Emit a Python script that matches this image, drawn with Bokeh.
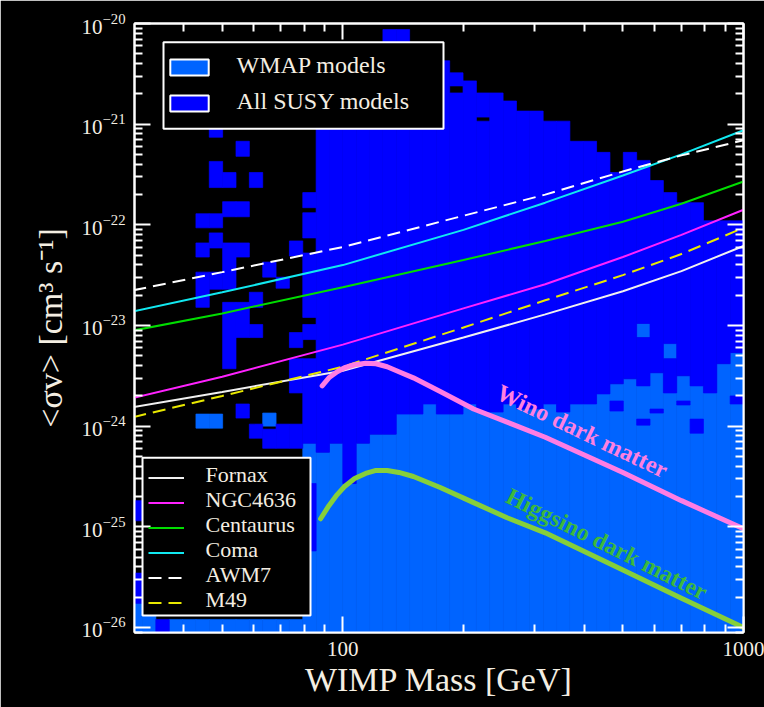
import numpy as np
from bokeh.plotting import figure
from bokeh.models import (FixedTicker, LogAxis, Legend, LegendItem, PrintfTickFormatter,
                          CustomJSTickFormatter, ColumnDataSource)
from bokeh.core.properties import value
from bokeh.embed import file_html
from bokeh.resources import INLINE

# ---------------- data ----------------
# heat-map cells: (column index k -> mass bin [10^(k/30), 10^((k+1)/30)] GeV,
#                  log10 <sigma v> lower edge, log10 upper edge)
wmap_cells = [
    (44, -26.10, -25.76), (45, -26.10, -25.76),
    (47, -26.10, -25.92), (48, -26.10, -25.92), (49, -26.10, -25.92), (50, -26.10, -25.92),
    (51, -26.10, -25.92), (52, -26.10, -25.92), (53, -26.10, -25.92), (54, -26.10, -25.92),
    (55, -26.10, -25.92), (56, -26.10, -25.92),
    (49, -24.02, -23.88), (50, -24.02, -23.88), (54, -24.00, -23.87),
    (57, -26.10, -24.17), (58, -26.10, -24.26), (59, -26.10, -24.17), (60, -26.10, -24.57),
    (61, -26.10, -24.17), (62, -26.10, -24.08), (63, -26.10, -24.08), (64, -26.10, -23.88),
    (65, -26.10, -23.88), (66, -26.10, -23.78), (67, -26.10, -23.88), (68, -26.10, -23.88),
    (69, -26.10, -23.78), (70, -26.10, -23.86), (71, -26.10, -23.86), (72, -26.10, -23.78),
    (73, -26.10, -23.83), (74, -26.10, -23.83), (75, -26.10, -23.78), (76, -26.10, -23.86),
    (77, -26.10, -23.78), (78, -26.10, -23.78), (79, -26.10, -23.68), (80, -26.10, -23.58),
    (81, -26.10, -23.53), (82, -26.10, -23.60), (83, -26.10, -23.47), (84, -26.10, -23.67),
    (85, -26.10, -23.50), (86, -26.10, -23.60), (87, -26.10, -23.67), (88, -26.10, -23.38),
    (89, -26.10, -23.27),
    (82, -23.12, -22.98), (84, -23.33, -23.18),
]

susy_cells = [
    (44, -24.94, -24.74), (44, -25.76, -25.46), (46, -26.10, -25.92),
    (49, -22.03, -21.89), (49, -22.32, -22.18), (49, -22.82, -22.47),
    (50, -21.13, -21.00), (50, -21.63, -21.37), (50, -22.03, -21.89), (50, -22.23, -22.08),
    (50, -22.64, -22.47),
    (51, -21.63, -21.48), (51, -21.92, -21.77), (51, -22.64, -22.18), (51, -23.43, -22.77),
    (52, -21.32, -21.17), (52, -21.92, -21.77), (52, -22.32, -22.18), (52, -23.12, -22.77),
    (52, -23.92, -23.78),
    (53, -21.63, -21.48), (53, -22.82, -22.67), (53, -23.12, -22.99), (53, -24.12, -23.98),
    (54, -22.52, -22.37), (54, -24.22, -24.03),
    (55, -22.63, -22.52), (55, -24.22, -23.98),
    (56, -22.31, -22.16), (56, -23.22, -23.07), (56, -23.67, -23.33), (56, -24.22, -23.98),
    (57, -21.83, -21.68), (57, -22.13, -21.88), (57, -22.92, -22.28), (57, -23.14, -22.99),
    (57, -24.17, -23.33), (57, -25.24, -24.57),
    (58, -24.26, -20.30), (59, -24.17, -20.30), (60, -24.57, -20.30), (61, -24.17, -20.30),
    (62, -24.08, -20.30), (63, -24.08, -20.06), (64, -23.88, -20.06), (65, -23.88, -20.30),
    (66, -23.78, -20.30), (67, -23.88, -20.37),
    (68, -23.88, -20.69), (68, -20.62, -20.49),
    (69, -23.78, -20.57),
    (70, -23.86, -20.97), (70, -20.93, -20.69),
    (71, -23.86, -20.69), (72, -23.78, -20.77), (73, -23.83, -20.87), (74, -23.83, -20.87),
    (75, -23.78, -20.97), (76, -23.86, -20.97), (77, -23.78, -21.17), (78, -23.78, -21.17),
    (79, -23.68, -21.28),
    (80, -23.58, -21.48), (80, -23.85, -23.75),
    (81, -23.53, -21.28),
    (82, -23.60, -23.12), (82, -22.98, -21.36), (82, -23.99, -23.93),
    (83, -23.47, -21.56), (83, -23.87, -23.83),
    (84, -23.67, -23.33), (84, -23.18, -21.68),
    (85, -23.50, -21.78), (85, -23.79, -23.75),
    (86, -23.60, -21.78), (86, -24.07, -23.93),
    (87, -23.67, -21.96), (88, -23.38, -21.96),
    (89, -23.27, -21.96), (89, -23.78, -23.70),
]

# cluster limits: WIMP mass [GeV] and log10 <sigma v> [cm^3 s^-1]
limit_mass = [30, 50, 100, 200, 320, 500, 700, 1000]
fornax   = [-23.81, -23.66, -23.45, -23.12, -22.89, -22.66, -22.46, -22.21]
ngc4636  = [-23.72, -23.51, -23.19, -22.83, -22.59, -22.32, -22.10, -21.85]
centaurus = [-23.05, -22.88, -22.62, -22.35, -22.16, -21.97, -21.79, -21.57]
coma     = [-22.86, -22.67, -22.40, -22.05, -21.78, -21.51, -21.30, -21.06]
awm7     = [-22.65, -22.47, -22.22, -21.91, -21.70, -21.47, -21.31, -21.16]
m49      = [-23.91, -23.70, -23.41, -23.02, -22.75, -22.50, -22.29, -22.03]

wino_mass = [88.8, 92.3, 96.8, 101, 107, 114, 121, 129, 138, 150, 175, 212, 257,
             320, 500, 700, 1000]
wino_sv   = [-23.60, -23.52, -23.46, -23.42, -23.39, -23.375, -23.38, -23.41, -23.46,
             -23.52, -23.655, -23.83, -23.96, -24.11, -24.46, -24.74, -25.02]
higgsino_mass = [88.0, 92.3, 96.8, 101, 107, 114, 121, 129, 138, 150, 175, 212, 257,
                 320, 500, 700, 1000]
higgsino_sv   = [-24.92, -24.79, -24.68, -24.60, -24.52, -24.47, -24.44, -24.44, -24.46,
                 -24.50, -24.61, -24.76, -24.91, -25.06, -25.43, -25.71, -26.00]

region_labels = ["WMAP models", "All SUSY models"]
cluster_labels = ["Fornax", "NGC4636", "Centaurus", "Coma", "AWM7", "M49"]

x_major = [100, 1000]
x_minor = [40, 50, 60, 70, 80, 90, 200, 300, 400, 500, 600, 700, 800, 900]
y_exponents = [-26, -25, -24, -23, -22, -21, -20]

# ---------------- styling / layout ----------------
DARK = "#0000ff"
LIGHT = "#0064ff"
TXT = "#f4eee2"
FONT = "Liberation Serif"

X_LO, X_HI = 30.2, 1000.0
Y_LO_EXP, Y_HI_EXP = -26.05, -20.0
FRAME_L, FRAME_T, FRAME_W, FRAME_H = 134, 23, 609, 609

p = figure(width=764, height=707, x_axis_type="log", y_axis_type="log",
           x_range=(X_LO, X_HI), y_range=(10 ** Y_LO_EXP, 10 ** Y_HI_EXP),
           output_backend="svg", toolbar_location=None,
           background_fill_color="black", border_fill_color="black",
           min_border_left=FRAME_L, min_border_right=764 - FRAME_L - FRAME_W,
           min_border_top=FRAME_T, min_border_bottom=707 - FRAME_T - FRAME_H,
           outline_line_color="white", outline_line_width=2)
p.grid.visible = False


def scr_x(px):
    """screen x (pixels) -> mass in GeV (for placing legend parts)"""
    a, b = np.log10(X_LO), np.log10(X_HI)
    return 10 ** (a + (px - FRAME_L) / FRAME_W * (b - a))


def scr_y(py):
    """screen y (pixels from top) -> <sigma v>"""
    return 10 ** (Y_HI_EXP - (py - FRAME_T) / FRAME_H * (Y_HI_EXP - Y_LO_EXP))


def cell_source(cells):
    k = np.array([c[0] for c in cells], dtype=float)
    lo = np.array([c[1] for c in cells])
    hi = np.array([c[2] for c in cells])
    return ColumnDataSource(dict(left=10 ** (k / 30), right=10 ** ((k + 1) / 30),
                                 bottom=10 ** lo, top=10 ** hi))


p.quad(left="left", right="right", bottom="bottom", top="top", source=cell_source(wmap_cells),
       fill_color=LIGHT, line_color=LIGHT, line_width=0.7)
p.quad(left="left", right="right", bottom="bottom", top="top", source=cell_source(susy_cells),
       fill_color=DARK, line_color=DARK, line_width=0.7)

# legend swatches for the model regions (placed outside the visible mass range)
wmap_dummy = p.quad(left=[1], right=[2], top=[1e-30], bottom=[1e-31], fill_color=LIGHT,
                    line_color="white", line_width=2)
susy_dummy = p.quad(left=[1], right=[2], top=[1e-30], bottom=[1e-31], fill_color=DARK,
                    line_color="white", line_width=2)

lm = np.array(limit_mass, dtype=float)
series = [(fornax, "#f0f0f0", "solid"),
          (ngc4636, "#ff22ff", "solid"),
          (centaurus, "#00dd00", "solid"),
          (coma, "#11e8f0", "solid"),
          (awm7, "#ffffff", "13 7"),
          (m49, "#e8e800", "13 7")]
items2 = []
for name, (vals, col, dash) in zip(cluster_labels, series):
    r = p.line(lm, 10 ** np.array(vals), line_color=col, line_width=2, line_dash=dash)
    items2.append(LegendItem(label=name, renderers=[r]))

p.line(wino_mass, 10 ** np.array(wino_sv), line_color="#ff7de3", line_width=5,
       line_cap="round", line_join="round")
p.line(higgsino_mass, 10 ** np.array(higgsino_sv), line_color="#86cf3a", line_width=5,
       line_cap="round", line_join="round")

p.text(x=[396], y=[10 ** -24.05], text=["Wino dark matter"], angle=[-25.5], angle_units="deg",
       text_font=value(FONT), text_font_style="bold", text_font_size="24px",
       text_color="#ff80e0", text_align="center", text_baseline="middle")
p.text(x=[456], y=[10 ** -25.17], text=["Higgsino dark matter"], angle=[-26.5],
       angle_units="deg", text_font=value(FONT), text_font_style="bold",
       text_font_size="24px", text_color="#3db83d", text_align="center",
       text_baseline="middle")

# ---------------- legend panels: black framed boxes and serif label text ----------------
boxes = [(163, 443, 41.7, 128.3), (142, 310, 457.3, 615)]
p.quad(left=[scr_x(b[0]) for b in boxes], right=[scr_x(b[1]) for b in boxes],
       top=[scr_y(b[2]) for b in boxes], bottom=[scr_y(b[3]) for b in boxes],
       fill_color="black", line_color="white", line_width=2)
p.text(x=[scr_x(236)] * 2, y=[scr_y(64 + 36 * i) for i in range(2)], text=region_labels,
       text_font=value(FONT), text_font_size="24px", text_color=TXT,
       text_align="left", text_baseline="middle")
p.text(x=[scr_x(205)] * 6, y=[scr_y(474 + 24.9 * i) for i in range(6)], text=cluster_labels,
       text_font=value(FONT), text_font_size="22px", text_color=TXT,
       text_align="left", text_baseline="middle")

# ---------------- axes ----------------
xt = FixedTicker(ticks=x_major, minor_ticks=x_minor)
yt = FixedTicker(ticks=[10.0 ** e for e in y_exponents],
                 minor_ticks=[m * 10.0 ** e for e in range(-27, -20) for m in range(2, 10)])


def style_axis(ax):
    ax.axis_line_color = "white"
    ax.axis_line_width = 2
    ax.major_tick_line_color = "white"
    ax.major_tick_line_width = 2
    ax.minor_tick_line_color = "white"
    ax.minor_tick_line_width = 2
    ax.major_tick_in = 16
    ax.major_tick_out = 0
    ax.minor_tick_in = 8
    ax.minor_tick_out = 0
    ax.major_label_text_color = TXT
    ax.major_label_text_font = FONT
    ax.major_label_text_font_size = "21px"
    ax.axis_label_text_color = TXT
    ax.axis_label_text_font = FONT
    ax.axis_label_text_font_style = "normal"
    ax.axis_label_text_font_size = "34px"


xa = p.xaxis[0]
xa.ticker = xt
xa.formatter = PrintfTickFormatter(format="%d")
style_axis(xa)
xa.major_label_standoff = 9
xa.axis_label = "WIMP Mass [GeV]"
xa.axis_label_standoff = 2

ya = p.yaxis[0]
ya.ticker = yt
style_axis(ya)
ya.major_label_standoff = 9
ya.axis_label = "<σv> [cm³ s⁻¹]"
ya.axis_label_standoff = 10

blank = CustomJSTickFormatter(code="return ''")
top_ax = LogAxis(ticker=xt, formatter=blank)
right_ax = LogAxis(ticker=yt, formatter=blank)
for ax in (top_ax, right_ax):
    style_axis(ax)
    ax.major_label_text_font_size = "1px"
    ax.major_label_standoff = 0
p.add_layout(top_ax, "above")
p.add_layout(right_ax, "right")

# ---------------- legend keys (Bokeh legends, transparent, label text not drawn) ----------
leg1 = Legend(items=[LegendItem(label=region_labels[0], renderers=[wmap_dummy]),
                     LegendItem(label=region_labels[1], renderers=[susy_dummy])],
              location=(31, 518), orientation="vertical",
              background_fill_alpha=0, border_line_color=None,
              label_text_color=None, label_text_font_size="1px",
              glyph_width=48, glyph_height=20, label_height=22, label_width=188,
              label_standoff=18, padding=5, spacing=14, margin=0)
leg2 = Legend(items=items2, location=(14, 17), orientation="vertical",
              background_fill_alpha=0, border_line_color=None,
              label_text_color=None, label_text_font_size="1px",
              glyph_width=36, glyph_height=25, label_height=25, label_width=101,
              label_standoff=17, padding=4, spacing=0, margin=0)
p.add_layout(leg1)
p.add_layout(leg2)

open("out.html", "w").write(file_html(p, INLINE))
